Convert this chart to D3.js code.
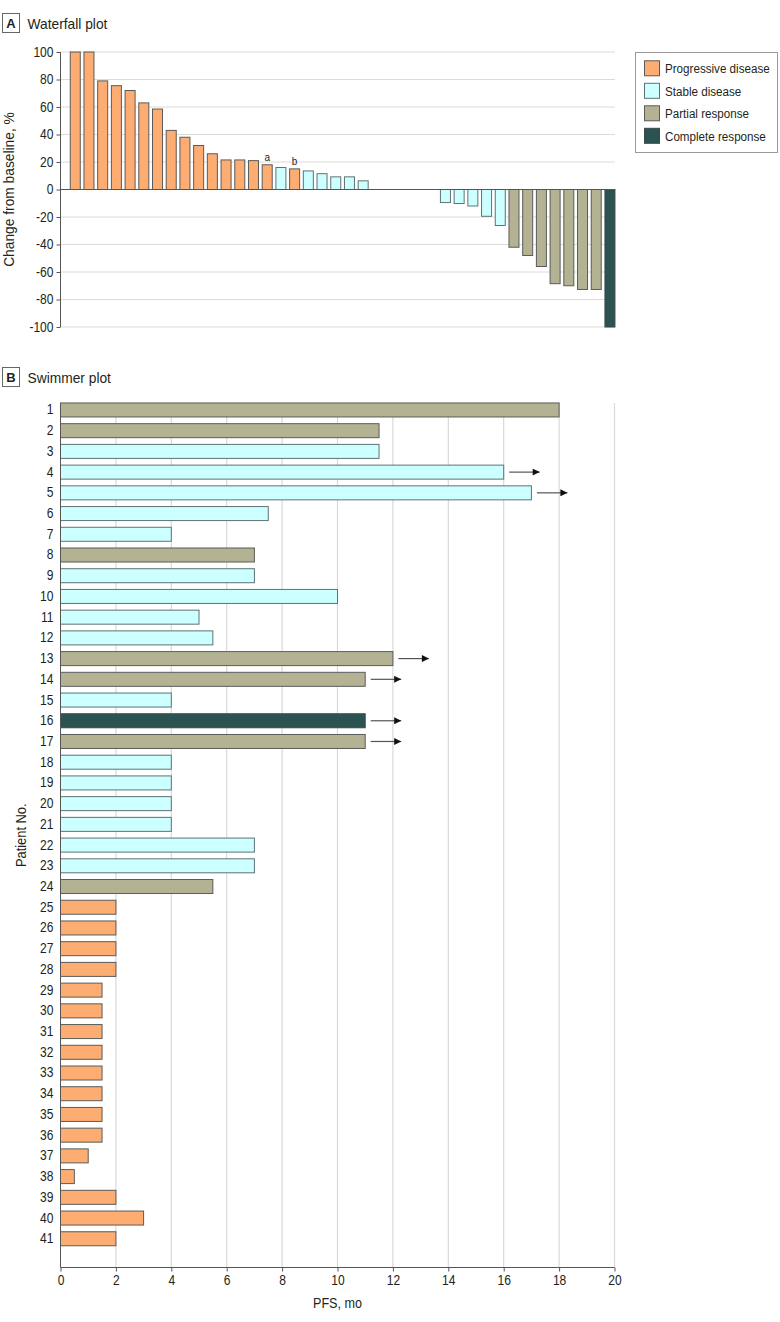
<!DOCTYPE html>
<html>
<head>
<meta charset="utf-8">
<script src="https://cdn.jsdelivr.net/npm/d3@7"></script>
<style>
  html, body { margin: 0; padding: 0; background: #fff; }
  svg { display: block; }
  text { fill: #231f20; }
</style>
</head>
<body>
<svg id="chart" width="780" height="1322"></svg>
<script>
// ---------------- DATA ----------------
// Waterfall: best change from baseline (%), one slot per patient (null = no bar)
const wfValues = [100, 100, 79, 75.5, 72, 63, 58.5, 43, 38, 32, 26, 21.5, 21.5, 21, 18, 16, 15, 13.5, 11.5, 9.2, 9.2, 6.3,
                  null, null, null, null, null,
                  -9.5, -10.2, -12, -19.5, -26.2,
                  -42, -48, -56, -68.5, -70, -72.7, -72.7,
                  -100];
const wfCats = ["PD","PD","PD","PD","PD","PD","PD","PD","PD","PD","PD","PD","PD","PD","PD","SD","PD","SD","SD","SD","SD","SD",
                null, null, null, null, null,
                "SD","SD","SD","SD","SD",
                "PR","PR","PR","PR","PR","PR","PR",
                "CR"];
const wfNotes = [null,null,null,null,null,null,null,null,null,null,null,null,null,null,"a",null,"b",null,null,null,null,null,
                 null,null,null,null,null,null,null,null,null,null,null,null,null,null,null,null,null,null];
const wfTicks = [-100, -80, -60, -40, -20, 0, 20, 40, 60, 80, 100];

// Swimmer: PFS in months per patient
const patients = [1,2,3,4,5,6,7,8,9,10,11,12,13,14,15,16,17,18,19,20,21,22,23,24,25,26,27,28,29,30,31,32,33,34,35,36,37,38,39,40,41];
const swimPFS = [18, 11.5, 11.5, 16, 17, 7.5, 4, 7, 7, 10, 5, 5.5, 12, 11, 4, 11, 11, 4, 4, 4, 4, 7, 7, 5.5,
                 2, 2, 2, 2, 1.5, 1.5, 1.5, 1.5, 1.5, 1.5, 1.5, 1.5, 1, 0.5, 2, 3, 2];
const swimCats = ["PR","PR","SD","SD","SD","SD","SD","PR","SD","SD","SD","SD","PR","PR","SD","CR","PR","SD","SD","SD","SD","SD","SD","PR",
                  "PD","PD","PD","PD","PD","PD","PD","PD","PD","PD","PD","PD","PD","PD","PD","PD","PD"];
const swimOngoing = [4, 5, 13, 14, 16, 17];
const swimTicks = [0, 2, 4, 6, 8, 10, 12, 14, 16, 18, 20];

const legendKeys = ["PD", "SD", "PR", "CR"];
const legendLabels = ["Progressive disease", "Stable disease", "Partial response", "Complete response"];

// ---------------- STYLE ----------------
const colors = { PD: "#fdad72", SD: "#ccffff", PR: "#b3b394", CR: "#2b5351" };
const strokes = { PD: "#5b5b5b", SD: "#5f7272", PR: "#5b5b5b", CR: "#3a4a49" };
const FONT = "'Liberation Sans', Arial, sans-serif";
const TFONT = "'Liberation Sans', Arial, sans-serif";
const SQUEEZE = 0.86;

// condense text horizontally (narrow typeface look)
function condense(sel, f) {
  sel.each(function () {
    const w = this.getComputedTextLength();
    if (w > 0) {
      d3.select(this).attr("textLength", (w * (f || SQUEEZE)).toFixed(2)).attr("lengthAdjust", "spacingAndGlyphs");
    }
  });
}

const svg = d3.select("#chart");
svg.append("rect").attr("width", 780).attr("height", 1322).attr("fill", "#fff");

function panelHeader(y, letter, title) {
  const g = svg.append("g");
  g.append("rect").attr("x", 2.5).attr("y", y).attr("width", 17).attr("height", 19)
    .attr("fill", "#fff").attr("stroke", "#666").attr("stroke-width", 1);
  g.append("text").attr("x", 11).attr("y", y + 14.5).attr("text-anchor", "middle")
    .style("font-family", TFONT).style("font-weight", "bold").style("font-size", "13px").text(letter);
  g.append("text").attr("x", 27.5).attr("y", y + 15)
    .style("font-family", TFONT).style("font-size", "14.5px").text(title)
    .call(condense, 0.95);
}

// ---------------- WATERFALL ----------------
panelHeader(13.5, "A", "Waterfall plot");

const wfLeft = 60.5, wfRight = 615;
const wfY = d3.scaleLinear().domain([-100, 100]).range([327, 52]);
const wfX = d3.scaleBand().domain(d3.range(wfValues.length)).range([68.4, 616.8])
  .paddingInner(0.27).paddingOuter(0.135);

// gridlines
svg.append("g").selectAll("line").data(wfTicks.filter(t => t !== 0)).join("line")
  .attr("x1", wfLeft).attr("x2", wfRight)
  .attr("y1", d => wfY(d)).attr("y2", d => wfY(d))
  .attr("stroke", "#dcdcdc").attr("stroke-width", 1.2);

// bars
const wfData = wfValues.map((v, i) => ({ i, v, c: wfCats[i], note: wfNotes[i] })).filter(d => d.v !== null);
svg.append("g").selectAll("rect").data(wfData).join("rect")
  .attr("x", d => wfX(d.i))
  .attr("width", wfX.bandwidth())
  .attr("y", d => wfY(Math.max(0, d.v)))
  .attr("height", d => Math.abs(wfY(d.v) - wfY(0)))
  .attr("fill", d => colors[d.c])
  .attr("stroke", d => strokes[d.c]).attr("stroke-width", 1);

// zero line
svg.append("line").attr("x1", wfLeft).attr("x2", wfRight)
  .attr("y1", wfY(0)).attr("y2", wfY(0)).attr("stroke", "#555").attr("stroke-width", 1.2);

// notes
svg.append("g").selectAll("text").data(wfData.filter(d => d.note)).join("text")
  .attr("x", d => wfX(d.i) + wfX.bandwidth() / 2)
  .attr("y", d => wfY(d.v) - 4)
  .attr("text-anchor", "middle")
  .style("font-family", TFONT).style("font-size", "10px").text(d => d.note);

// y axis
const wfAxis = svg.append("g").attr("transform", `translate(${wfLeft},0)`)
  .call(d3.axisLeft(wfY).tickValues(wfTicks).tickSize(4).tickPadding(3).tickFormat(d => String(d)));
wfAxis.select(".domain").attr("stroke", "#555").attr("d", `M0,${wfY(100)}V${wfY(-100)}`);
wfAxis.selectAll(".tick line").attr("stroke", "#555");
wfAxis.selectAll(".tick text").style("font-family", FONT).style("font-size", "14px").attr("fill", "#231f20")
  .call(condense);

svg.append("text")
  .attr("transform", `translate(14,${(wfY(100) + wfY(-100)) / 2}) rotate(-90)`)
  .attr("text-anchor", "middle")
  .style("font-family", FONT).style("font-size", "14.5px")
  .text("Change from baseline, %")
  .call(condense, 0.95);

// legend
const lg = svg.append("g");
lg.append("rect").attr("x", 635.5).attr("y", 52.5).attr("width", 142).attr("height", 100)
  .attr("fill", "#fff").attr("stroke", "#999").attr("stroke-width", 1);
const li = lg.selectAll("g.item").data(legendKeys).join("g").attr("class", "item")
  .attr("transform", (d, i) => `translate(644,${68.3 + i * 22.5})`);
li.append("rect").attr("x", 0.5).attr("y", -7.5).attr("width", 15).attr("height", 15)
  .attr("fill", d => colors[d]).attr("stroke", d => strokes[d]).attr("stroke-width", 1);
li.append("text").attr("x", 21).attr("y", 4.8)
  .style("font-family", FONT).style("font-size", "12.5px")
  .text((d, i) => legendLabels[i])
  .call(condense, 0.93);

// ---------------- SWIMMER ----------------
panelHeader(367.5, "B", "Swimmer plot");

const swTop = 403, swBottom = 1267.5, swLeft = 60.5;
const swX = d3.scaleLinear().domain([0, 20]).range([swLeft, 614.5]);
const swY = d3.scaleBand().domain(patients).range([399.6, 399.6 + 41 * 20.72])
  .paddingInner(0.324).paddingOuter(0.162);

// vertical gridlines
svg.append("g").selectAll("line").data(swimTicks.filter(t => t !== 0)).join("line")
  .attr("x1", d => swX(d)).attr("x2", d => swX(d))
  .attr("y1", swTop).attr("y2", swBottom)
  .attr("stroke", "#d9d9d9").attr("stroke-width", 1.2);

const swData = patients.map((p, i) => ({ p, v: swimPFS[i], c: swimCats[i], on: swimOngoing.includes(p) }));
svg.append("g").selectAll("rect").data(swData).join("rect")
  .attr("x", swX(0))
  .attr("y", d => swY(d.p))
  .attr("width", d => swX(d.v) - swX(0))
  .attr("height", swY.bandwidth())
  .attr("fill", d => colors[d.c])
  .attr("stroke", d => strokes[d.c]).attr("stroke-width", 1);

// arrows for ongoing response
const defs = svg.append("defs");
defs.append("marker").attr("id", "arrowhead").attr("viewBox", "0 0 10 10")
  .attr("refX", 10).attr("refY", 5).attr("markerWidth", 9).attr("markerHeight", 7)
  .attr("markerUnits", "userSpaceOnUse").attr("orient", "auto")
  .append("path").attr("d", "M0,0L10,5L0,10Z").attr("fill", "#111");
svg.append("g").selectAll("line").data(swData.filter(d => d.on)).join("line")
  .attr("x1", d => swX(d.v) + 5.5).attr("x2", d => swX(d.v) + 36)
  .attr("y1", d => swY(d.p) + swY.bandwidth() / 2).attr("y2", d => swY(d.p) + swY.bandwidth() / 2)
  .attr("stroke", "#555").attr("stroke-width", 1.2)
  .attr("marker-end", "url(#arrowhead)");

// axes
const swXAxis = svg.append("g").attr("transform", `translate(0,${swBottom})`)
  .call(d3.axisBottom(swX).tickValues(swimTicks).tickSize(4).tickPadding(4).tickFormat(d => String(d)));
swXAxis.select(".domain").attr("stroke", "#555").attr("d", `M${swX(0)},0H${swX(20)}`);
swXAxis.selectAll(".tick line").attr("stroke", "#555");
swXAxis.selectAll(".tick text").style("font-family", FONT).style("font-size", "14px").attr("fill", "#231f20")
  .call(condense);

const swYAxis = svg.append("g").attr("transform", `translate(${swLeft},0)`)
  .call(d3.axisLeft(swY).tickSize(0).tickPadding(7));
swYAxis.select(".domain").attr("stroke", "#555").attr("d", `M0,${swTop}V${swBottom}`);
swYAxis.selectAll(".tick text").style("font-family", FONT).style("font-size", "14px").attr("fill", "#231f20")
  .call(condense);

svg.append("text").attr("x", (swX(0) + swX(20)) / 2).attr("y", 1308)
  .attr("text-anchor", "middle")
  .style("font-family", FONT).style("font-size", "14px").text("PFS, mo")
  .call(condense, 0.9);

svg.append("text")
  .attr("transform", `translate(26,${(swTop + swBottom) / 2}) rotate(-90)`)
  .attr("text-anchor", "middle")
  .style("font-family", FONT).style("font-size", "14px").text("Patient No.")
  .call(condense, 0.92);
</script>
</body>
</html>
